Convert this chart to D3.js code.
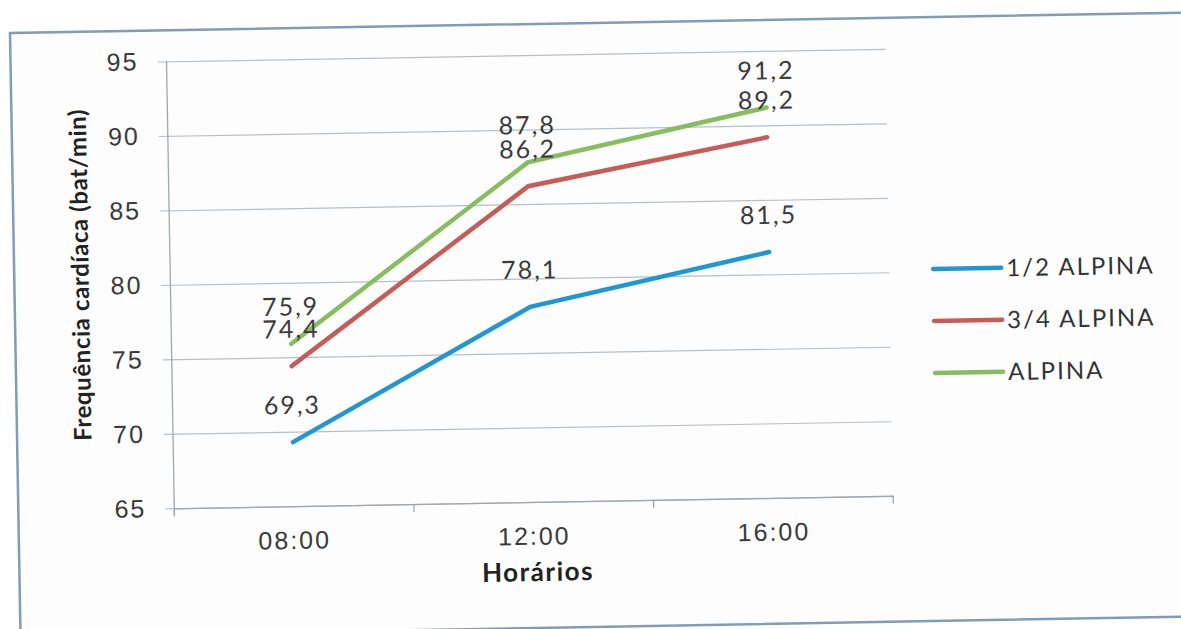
<!DOCTYPE html>
<html>
<head>
<meta charset="utf-8">
<script src="https://cdn.jsdelivr.net/npm/d3@7"></script>
<style>
  html, body { margin: 0; padding: 0; background: #fff; }
  svg { display: block; font-family: Lato, "Open Sans", sans-serif; }
</style>
</head>
<body>
<div id="root"></div>
<script>
// data
const horarios = ['08:00', '12:00', '16:00'];
const meiaAlpina = [69.3, 78.1, 81.5];
const tresQuartosAlpina = [74.4, 86.2, 89.2];
const alpina = [75.9, 87.8, 91.2];
const seriesNames = ['1/2 ALPINA', '3/4 ALPINA', 'ALPINA'];
const yTicks = [65, 70, 75, 80, 85, 90, 95];

const colors = ['#1f97d4', '#c65c55', '#86bd5f'];
const series = [meiaAlpina, tresQuartosAlpina, alpina].map((values, i) => ({
  name: seriesNames[i],
  color: colors[i],
  values
}));

const W = 1181, H = 629;
const plot = { left: 171, right: 890, top: 54, bottom: 501 };
const fmt = v => String(v).replace('.', ',');
// the scan is a bit wider than the font, letter-spacing makes up for it
const textStyle = sel => sel
  .attr('fill', '#3a3a3a')
  .attr('font-size', 25)
  .attr('letter-spacing', 2);

const svg = d3.select('#root').append('svg')
  .attr('width', W)
  .attr('height', H);

svg.append('rect').attr('width', W).attr('height', H).attr('fill', '#fff');

// the scan is tilted a little, so the whole chart is rotated about its centre
const g = svg.append('g').attr('transform', 'rotate(-1,590,315)');

g.append('rect')
  .attr('x', 15).attr('y', 23)
  .attr('width', 1190).attr('height', 604)
  .attr('fill', '#fdfdfd')
  .attr('stroke', '#7f9db6')
  .attr('stroke-width', 2.5);

const x = d3.scaleBand().domain(horarios).range([plot.left, plot.right]);
const y = d3.scaleLinear().domain([65, 95]).range([plot.bottom, plot.top]);

// gridlines + y axis
const yAxis = g.append('g')
  .attr('transform', `translate(${plot.left},0)`)
  .call(d3.axisLeft(y).tickValues(yTicks).tickSize(-(plot.right - plot.left)).tickSizeOuter(0).tickPadding(28));
yAxis.select('.domain').remove();
yAxis.selectAll('.tick line')
  .attr('x1', -9)
  .attr('stroke', '#b3c0cb')
  .attr('stroke-width', 1.2);
yAxis.selectAll('.tick text').call(textStyle);

g.append('line')
  .attr('x1', plot.left).attr('x2', plot.left)
  .attr('y1', plot.top).attr('y2', plot.bottom + 8)
  .attr('stroke', '#9aa8b3').attr('stroke-width', 1.3);

// x axis with ticks at the band edges
const xAxis = g.append('g')
  .attr('transform', `translate(0,${plot.bottom})`)
  .call(d3.axisBottom(x).tickSize(0).tickPadding(25));
xAxis.select('.domain').attr('stroke', '#9aa8b3').attr('stroke-width', 1.3);
xAxis.selectAll('.tick text').call(textStyle);
g.append('g')
  .selectAll('line')
  .data(horarios.map(h => x(h)).concat([plot.right]))
  .join('line')
  .attr('x1', d => d).attr('x2', d => d)
  .attr('y1', plot.bottom).attr('y2', plot.bottom + 8)
  .attr('stroke', '#9aa8b3').attr('stroke-width', 1.3);

// lines
const line = d3.line()
  .x((d, i) => x(horarios[i]) + x.bandwidth() / 2)
  .y(d => y(d));

g.append('g')
  .selectAll('path')
  .data(series)
  .join('path')
  .attr('d', d => line(d.values))
  .attr('fill', 'none')
  .attr('stroke', d => d.color)
  .attr('stroke-width', 4.5)
  .attr('stroke-linecap', 'round');

// data labels above each point
const labels = series.flatMap(s => s.values.map((v, i) => ({ v, h: horarios[i] })));
g.append('g')
  .selectAll('text')
  .data(labels)
  .join('text')
  .attr('x', d => x(d.h) + x.bandwidth() / 2)
  .attr('y', d => y(d.v) - 37)
  .attr('dy', '0.35em')
  .attr('text-anchor', 'middle')
  .call(textStyle)
  .text(d => fmt(d.v));

// axis titles
g.append('text')
  .attr('transform', 'translate(81,266) rotate(-90)')
  .attr('text-anchor', 'middle')
  .attr('dy', '0.35em')
  .attr('font-size', 24)
  .attr('letter-spacing', 0.6)
  .attr('font-weight', 'bold')
  .attr('fill', '#222')
  .text('Frequência cardíaca (bat/min)');

g.append('text')
  .attr('x', (plot.left + plot.right) / 2 + 3)
  .attr('y', 571)
  .attr('dy', '0.35em')
  .attr('text-anchor', 'middle')
  .attr('font-size', 26)
  .attr('letter-spacing', 1.5)
  .attr('font-weight', 'bold')
  .attr('fill', '#222')
  .text('Horários');

// legend
const legend = g.append('g')
  .selectAll('g')
  .data(series)
  .join('g')
  .attr('transform', (d, i) => `translate(934,${275 + i * 52})`);
legend.append('line')
  .attr('x1', 0).attr('x2', 68)
  .attr('stroke', d => d.color)
  .attr('stroke-width', 4.5)
  .attr('stroke-linecap', 'round');
legend.append('text')
  .attr('x', 73)
  .attr('dy', '0.35em')
  .attr('font-size', 24)
  .attr('letter-spacing', 2)
  .attr('fill', '#333')
  .text(d => d.name);
</script>
</body>
</html>
